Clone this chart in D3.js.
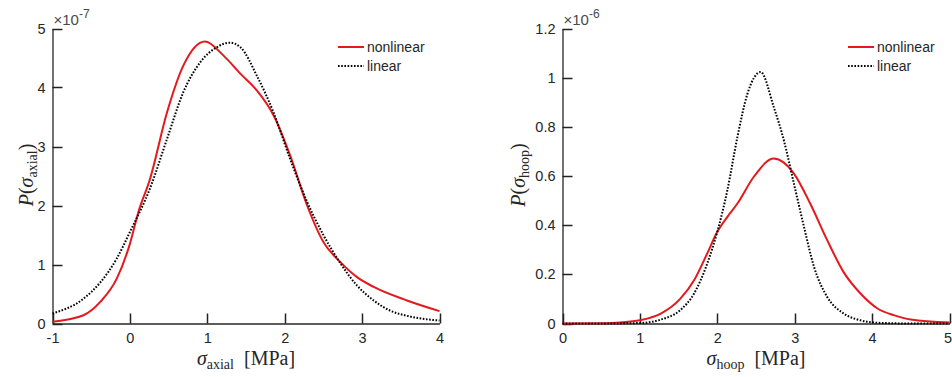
<!DOCTYPE html>
<html><head><meta charset="utf-8">
<script src="https://cdn.jsdelivr.net/npm/d3@7/dist/d3.min.js"></script>
<style>
body{margin:0;background:#fff;}
svg{display:block;}
.tick text{font-family:"Liberation Sans",Arial,sans-serif;font-size:14.5px;fill:#262626;}
</style></head>
<body>
<svg id="c" width="952" height="377"></svg>
<script>
// Left panel (axial), values ×1e-7
const axialX_nl = [-1,-0.6,-0.38,-0.17,0,0.11,0.26,0.48,0.69,0.97,1.21,1.43,1.64,1.855,2.07,2.29,2.5,2.72,2.93,3.15,3.58,4.0];
const axialY_nl = [0.03,0.14,0.37,0.76,1.35,1.89,2.45,3.58,4.37,4.78,4.54,4.23,3.95,3.53,2.85,2.0,1.38,1.04,0.79,0.62,0.39,0.21];
const axialX_lin = [-1,-0.6,-0.38,-0.17,0,0.26,0.48,0.69,0.91,1.12,1.29,1.43,1.64,1.855,2.07,2.29,2.5,2.72,2.93,3.15,3.36,3.58,4.0];
const axialY_lin = [0.17,0.42,0.70,1.10,1.55,2.29,3.13,3.92,4.43,4.68,4.76,4.68,4.2,3.58,2.79,2.06,1.50,1.02,0.65,0.39,0.22,0.13,0.05];
// Right panel (hoop), values ×1e-6
const hoopX_nl = [0,0.5,0.75,1.0,1.27,1.52,1.70,1.87,2.0,2.13,2.26,2.47,2.73,2.99,3.2,3.42,3.63,3.85,4.07,4.28,4.5,5.0];
const hoopY_nl = [0,0.001,0.004,0.013,0.04,0.10,0.176,0.285,0.373,0.434,0.488,0.596,0.671,0.61,0.488,0.339,0.21,0.122,0.061,0.034,0.016,0.004];
const hoopX_lin = [0,0.5,1.0,1.27,1.52,1.70,1.87,2.0,2.13,2.26,2.39,2.56,2.73,2.86,2.99,3.12,3.25,3.42,3.63,3.85,4.07,4.5,5.0];
const hoopY_lin = [0,0,0.002,0.016,0.054,0.122,0.244,0.373,0.542,0.759,0.935,1.023,0.88,0.745,0.569,0.393,0.23,0.108,0.041,0.013,0.003,0,0];
const axialXTicks = [-1,0,1,2,3,4];
const axialYTicks = [0,1,2,3,4,5];
const hoopXTicks = [0,1,2,3,4,5];
const hoopYTicks = [0,0.2,0.4,0.6,0.8,1,1.2];
const seriesNames = ["nonlinear","linear"];

const svg = d3.select("#c");
const RED = "#e3191c", AX = "#262626";
const SERIF = "'Liberation Serif','Times New Roman',serif";

function panel(opt){
  const g = svg.append("g");
  const x = d3.scaleLinear().domain(opt.xd).range([opt.x0, opt.x1]);
  const y = d3.scaleLinear().domain(opt.yd).range([323.5, 28.5]);
  const y0 = y(0), x0 = x(opt.xd[0]);
  const xa = g.append("g").attr("transform",`translate(0,${y0})`)
    .call(d3.axisBottom(x).tickValues(opt.xt).tickSize(0).tickPadding(9).tickFormat(d=>String(d)));
  const ya = g.append("g").attr("transform",`translate(${x0},0)`)
    .call(d3.axisLeft(y).tickValues(opt.yt).tickSize(0).tickPadding(7).tickFormat(d=>String(d)));
  xa.selectAll(".tick text").attr("dy","0.71em");
  [xa,ya].forEach(a=>{a.select(".domain").attr("stroke",AX).attr("stroke-width",1.3);});
  // inward tick marks
  const tk = g.append("g").attr("stroke","#222").attr("stroke-width",1.5);
  tk.selectAll("line.xt").data(opt.xt).join("line").attr("class","xt")
    .attr("x1",d=>Math.round(x(d))+0.5).attr("x2",d=>Math.round(x(d))+0.5).attr("y1",y0).attr("y2",y0-10);
  tk.selectAll("line.yt").data(opt.yt).join("line").attr("class","yt")
    .attr("x1",x0).attr("x2",x0+10).attr("y1",d=>Math.round(y(d))+0.5).attr("y2",d=>Math.round(y(d))+0.5);
  const line = d3.line().x(d=>x(d[0])).y(d=>y(d[1])).curve(d3.curveMonotoneX);
  const lin = opt.lx.map((v,i)=>[v,opt.ly[i]]);
  const nl = opt.nx.map((v,i)=>[v,opt.ny[i]]);
  g.append("path").attr("d",line(nl)).attr("fill","none").attr("stroke",RED).attr("stroke-width",2);
  g.append("path").attr("d",line(lin)).attr("fill","none").attr("stroke","#000").attr("stroke-width",2).attr("stroke-dasharray","1.6,1.6");
  // exponent
  const ex = g.append("text").attr("x",x0+1).attr("y",25)
    .attr("font-family","Liberation Sans,Arial,sans-serif").attr("font-size",15).attr("fill","#4a4a4a");
  ex.append("tspan").text("×10");
  ex.append("tspan").attr("dy",-7).attr("font-size",12).text(opt.exp);
  // x label
  const xl = g.append("text").attr("x",(opt.x0+opt.x1)/2).attr("y",365).attr("text-anchor","middle")
    .attr("font-family",SERIF).attr("font-size",20).attr("fill",AX);
  xl.append("tspan").attr("font-style","italic").text("σ");
  xl.append("tspan").attr("dy",4).attr("font-size",14).text(opt.sub);
  xl.append("tspan").attr("dy",-4).text("\u2002[MPa]");
  // y label
  const yl = g.append("text").attr("transform",`translate(${opt.ylx},175) rotate(-90)`).attr("text-anchor","middle")
    .attr("font-family",SERIF).attr("font-size",20).attr("fill",AX);
  yl.append("tspan").attr("font-style","italic").text("P");
  yl.append("tspan").text("(");
  yl.append("tspan").attr("font-style","italic").text("σ");
  yl.append("tspan").attr("dy",4).attr("font-size",14).text(opt.sub);
  yl.append("tspan").attr("dy",-4).text(")");
  // legend
  const lg = g.append("g").attr("transform",`translate(${opt.lgx},0)`);
  lg.append("line").attr("x1",0).attr("x2",26).attr("y1",47).attr("y2",47).attr("stroke",RED).attr("stroke-width",2);
  lg.append("line").attr("x1",0).attr("x2",26).attr("y1",66).attr("y2",66).attr("stroke","#000").attr("stroke-width",2).attr("stroke-dasharray","1.6,1.6");
  seriesNames.forEach((n,i)=>{
    lg.append("text").attr("x",29).attr("y",52+i*19).text(n)
      .attr("font-family","Liberation Sans,Arial,sans-serif").attr("font-size",14).attr("fill",AX);
  });
  return xa;
}

panel({xd:[-1,4], yd:[0,5], x0:52.5, x1:439.5, xt:axialXTicks, yt:axialYTicks,
  nx:axialX_nl, ny:axialY_nl, lx:axialX_lin, ly:axialY_lin, exp:"-7", sub:"axial", lgx:338, ylx:33});
const xaR = panel({xd:[0,5], yd:[0,1.2], x0:562.5, x1:949.5, xt:hoopXTicks, yt:hoopYTicks,
  nx:hoopX_nl, ny:hoopY_nl, lx:hoopX_lin, ly:hoopY_lin, exp:"-6", sub:"hoop", lgx:848, ylx:525});
xaR.selectAll(".tick text").filter(d=>d===5).attr("dx",-2);
</script>
</body></html>
